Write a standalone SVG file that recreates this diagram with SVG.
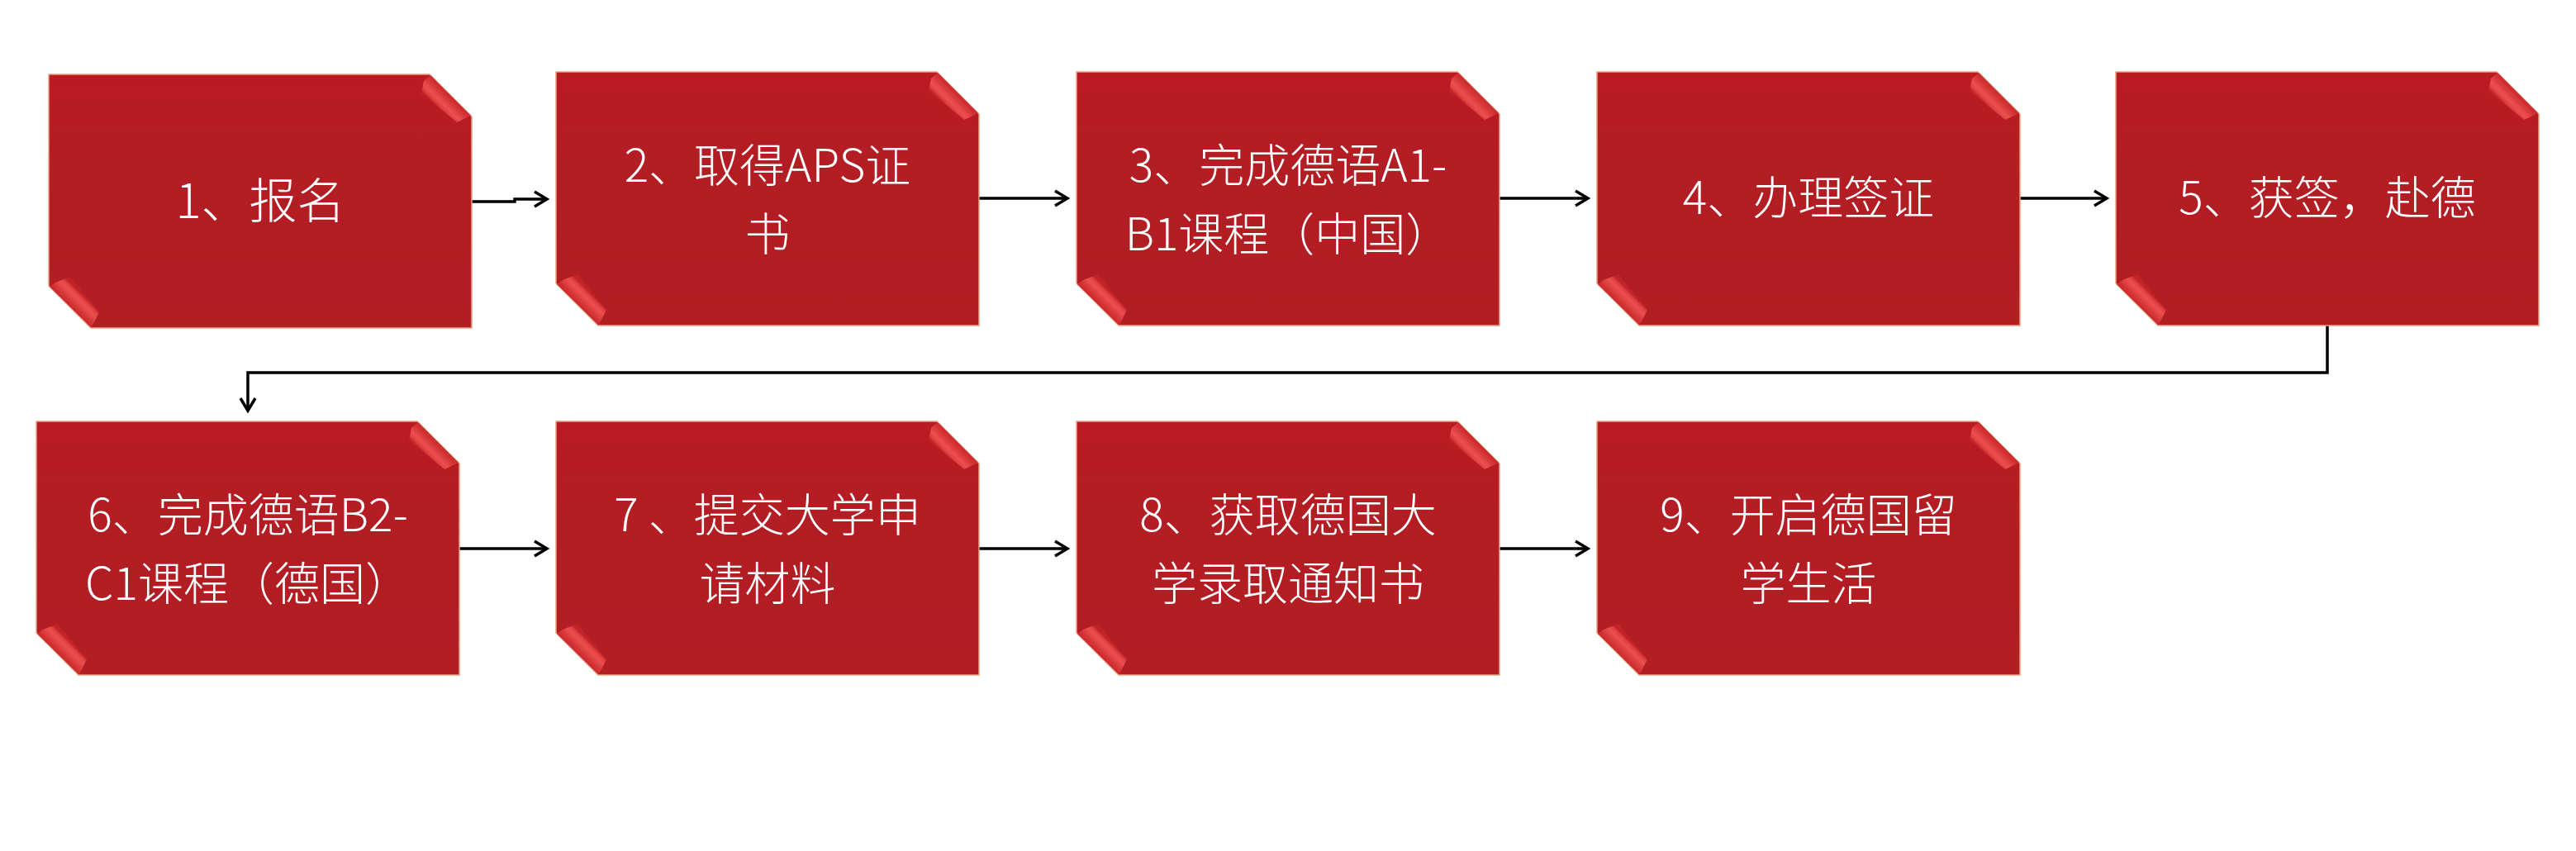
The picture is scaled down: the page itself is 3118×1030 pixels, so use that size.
<svg xmlns="http://www.w3.org/2000/svg" xmlns:xlink="http://www.w3.org/1999/xlink" width="3118" height="1030" viewBox="0 0 3118 1030">
<style>
.lbl{font-family:"Noto Sans CJK SC","Noto Sans",sans-serif;font-size:55px;font-weight:300;fill:#ffffff;text-anchor:middle}
.big{font-size:58px}
.conn{fill:none;stroke:#000000;stroke-width:3.5}
</style>
<defs>
<linearGradient id="fillG" x1="0" y1="0" x2="0" y2="1">
<stop offset="0" stop-color="#BA1B22"/>
<stop offset="0.35" stop-color="#B31D24"/>
<stop offset="1" stop-color="#B11E24"/>
</linearGradient>
<linearGradient id="bandTR" gradientUnits="userSpaceOnUse" x1="487" y1="26" x2="472" y2="41">
<stop offset="0" stop-color="#C9282D"/>
<stop offset="0.3" stop-color="#D8383A"/>
<stop offset="0.65" stop-color="#EA5050"/>
<stop offset="0.85" stop-color="#E0403F"/>
<stop offset="1" stop-color="#C22329"/>
</linearGradient>
<linearGradient id="bandBL" gradientUnits="userSpaceOnUse" x1="26" y1="282" x2="41" y2="267">
<stop offset="0" stop-color="#C9282D"/>
<stop offset="0.3" stop-color="#D8383A"/>
<stop offset="0.65" stop-color="#EA5050"/>
<stop offset="0.85" stop-color="#E0403F"/>
<stop offset="1" stop-color="#C22329"/>
</linearGradient>
<g id="card">
<polygon points="0,0 461,0 512,51 512,307 51,307 0,256" fill="url(#fillG)" stroke="#E9A283" stroke-width="1.5"/>
<polygon points="462,1 511,50 494,58 451,23 454,8" fill="url(#bandTR)"/>
<polygon points="51,306 1,257 8,252 26,245 61,288 54,302" fill="url(#bandBL)"/>
</g>
<marker id="arr" markerUnits="userSpaceOnUse" viewBox="-20 -12 24 24" markerWidth="24" markerHeight="24" refX="0" refY="0" orient="auto" overflow="visible">
<path d="M-15,-9 L0,0 L-15,9" fill="none" stroke="#000000" stroke-width="3.5"/>
</marker>
</defs>
<rect x="0" y="0" width="3118" height="1030" fill="#ffffff"/>
<g id="connectors">
<path class="conn" d="M571,244 H623 V241 H662" marker-end="url(#arr)"/>
<path class="conn" d="M1185,240 H1292" marker-end="url(#arr)"/>
<path class="conn" d="M1815,240 H1922" marker-end="url(#arr)"/>
<path class="conn" d="M2445,240 H2550" marker-end="url(#arr)"/>
<path class="conn" d="M2817,394 V451 H300 V497" marker-end="url(#arr)"/>
<path class="conn" d="M556,664 H662" marker-end="url(#arr)"/>
<path class="conn" d="M1185,664 H1292" marker-end="url(#arr)"/>
<path class="conn" d="M1815,664 H1922" marker-end="url(#arr)"/>
</g>
<g id="node1" transform="translate(59,90)">
<use xlink:href="#card"/>
<text class="lbl big" x="256" y="174">1、报名</text>
</g>
<g id="node2" transform="translate(673,87)">
<use xlink:href="#card"/>
<text class="lbl" x="256" y="133">2、取得APS证</text>
<text class="lbl" x="256" y="216">书</text>
</g>
<g id="node3" transform="translate(1303,87)">
<use xlink:href="#card"/>
<text class="lbl" x="256" y="133">3、完成德语A1-</text>
<text class="lbl" x="256" y="216">B1课程（中国）</text>
</g>
<g id="node4" transform="translate(1933,87)">
<use xlink:href="#card"/>
<text class="lbl" x="256" y="172">4、办理签证</text>
</g>
<g id="node5" transform="translate(2561,87)">
<use xlink:href="#card"/>
<text class="lbl" x="256" y="172">5、获签，赴德</text>
</g>
<g id="node6" transform="translate(44,510)">
<use xlink:href="#card"/>
<text class="lbl" x="256" y="133">6、完成德语B2-</text>
<text class="lbl" x="256" y="216">C1课程（德国）</text>
</g>
<g id="node7" transform="translate(673,510)">
<use xlink:href="#card"/>
<text class="lbl" x="256" y="133">7 、提交大学申</text>
<text class="lbl" x="256" y="216">请材料</text>
</g>
<g id="node8" transform="translate(1303,510)">
<use xlink:href="#card"/>
<text class="lbl" x="256" y="133">8、获取德国大</text>
<text class="lbl" x="256" y="216">学录取通知书</text>
</g>
<g id="node9" transform="translate(1933,510)">
<use xlink:href="#card"/>
<text class="lbl" x="256" y="133">9、开启德国留</text>
<text class="lbl" x="256" y="216">学生活</text>
</g>
</svg>
